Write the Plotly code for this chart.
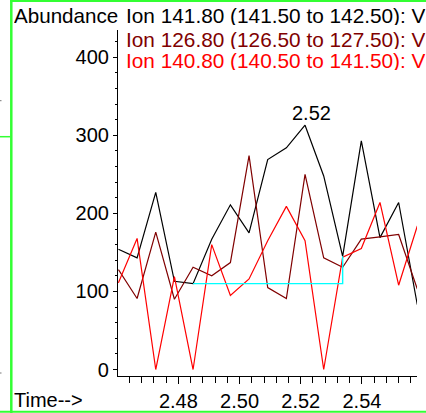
import plotly.graph_objects as go

# ---- data ----
times = [2.4604, 2.4665, 2.4726, 2.4787, 2.4848, 2.4909, 2.4970, 2.5031, 2.5092,
         2.5153, 2.5214, 2.5275, 2.5337, 2.5398, 2.5459, 2.5520, 2.5581]
ion_141 = [154, 143, 227, 113, 110, 167, 211, 175, 269, 284, 313, 248, 145, 293, 169, 214, 83]
ion_126 = [128, 91, 176, 90, 131, 120, 137, 274, 105, 91, 250, 143, 131, 167, 170, 173, 103]
ion_140 = [111, 168, 0, 119, 0, 160, 95, 116, 165, 209, 165, 0, 144, 155, 214, 108, 184]

series_names = ["Ion 141.80 (141.50 to 142.50): V",
                "Ion 126.80 (126.50 to 127.50): V",
                "Ion 140.80 (140.50 to 141.50): V"]
series_colors = ["#000000", "#800000", "#ff0000"]

x_tick_vals = [2.48, 2.50, 2.52, 2.54]
x_tick_text = ["2.48", "2.50", "2.52", "2.54"]
y_tick_vals = [0, 100, 200, 300, 400]

peak_index = 10
peak_label = "2.52"
base_start, base_end = 4, 12

FONT = "Liberation Sans, Arial, sans-serif"

fig = go.Figure()
for vals, name, col in zip([ion_141, ion_126, ion_140], series_names, series_colors):
    fig.add_trace(go.Scatter(x=times, y=vals, mode="lines", name=name,
                             line=dict(color=col, width=1.2), showlegend=False,
                             cliponaxis=True))

# integration baseline
fig.add_trace(go.Scatter(
    x=[times[base_start], times[base_end], times[base_end]],
    y=[ion_141[base_start], ion_141[base_start], ion_141[base_end]],
    mode="lines", line=dict(color="#00ffff", width=1.4), showlegend=False))

L, R, T, B = 118, 9, 30, 37
W, H = 426, 413
pw, ph = W - L - R, H - T - B


def px(x):
    return (x - L) / pw


def py(y):
    return (H - B - y) / ph


annotations = [
    dict(x=times[peak_index], y=ion_141[peak_index], xref="x", yref="y",
         text=peak_label, showarrow=False, xanchor="center", yanchor="bottom",
         xshift=6, yshift=-1, font=dict(family=FONT, size=20, color="black")),
    dict(x=px(12), y=py(15.5), xref="paper", yref="paper", text="Abundance",
         showarrow=False, xanchor="left", yanchor="middle", height=20,
         font=dict(family=FONT, size=20.6, color="black")),
    dict(x=px(12), y=py(400), xref="paper", yref="paper", text="Time-->",
         showarrow=False, xanchor="left", yanchor="middle", height=20,
         font=dict(family=FONT, size=20, color="black")),
]
for name, col, yy in zip(series_names, series_colors, [15.3, 39.5, 60.5]):
    annotations.append(dict(x=px(123.5), y=py(yy), xref="paper", yref="paper",
                            text=name, showarrow=False, xanchor="left",
                            yanchor="middle", height=19, valign="middle",
                            font=dict(family=FONT, size=20.8, color=col)))

green = "#33ff33"
shapes = [
    dict(type="line", xref="paper", yref="paper", x0=px(11.3), x1=px(11.3),
         y0=py(0), y1=py(H), line=dict(color=green, width=2.5)),
    dict(type="line", xref="paper", yref="paper", x0=px(10), x1=px(W),
         y0=py(1), y1=py(1), line=dict(color=green, width=2)),
    dict(type="line", xref="paper", yref="paper", x0=px(0), x1=px(W),
         y0=py(411.7), y1=py(411.7), line=dict(color=green, width=2)),
    dict(type="line", xref="paper", yref="paper", x0=px(0), x1=px(10),
         y0=py(136.7), y1=py(136.7), line=dict(color=green, width=1.5)),
    dict(type="line", xref="paper", yref="paper", x0=px(0), x1=px(1.5),
         y0=py(100.7), y1=py(100.7), line=dict(color="#777777", width=1)),
    dict(type="line", xref="paper", yref="paper", x0=px(0), x1=px(1.5),
         y0=py(373), y1=py(373), line=dict(color="#777777", width=1)),
]

fig.update_layout(
    width=W, height=H,
    margin=dict(l=L, r=R, t=T, b=B, pad=0, autoexpand=False),
    paper_bgcolor="white", plot_bgcolor="white",
    showlegend=False,
    font=dict(family=FONT, size=20, color="black"),
    annotations=annotations, shapes=shapes,
    xaxis=dict(range=[2.46026, 2.5580], showline=True, linecolor="black", linewidth=1.2,
               automargin=False,
               ticks="outside", ticklen=7, tickwidth=1.2, tickcolor="black",
               tickvals=x_tick_vals, ticktext=x_tick_text,
               minor=dict(dtick=0.004, tick0=2.48, ticks="outside", ticklen=6,
                          tickwidth=1.2, tickcolor="black"),
               showgrid=False, zeroline=False,
               tickfont=dict(family=FONT, size=20, color="black")),
    yaxis=dict(range=[-8.3, 435], showline=True, linecolor="black", linewidth=1.2,
               automargin=False,
               ticks="outside", ticklen=4, tickwidth=1.2, tickcolor="black",
               tickvals=y_tick_vals,
               minor=dict(dtick=20, tick0=0, ticks="outside", ticklen=2,
                          tickwidth=1, tickcolor="black"),
               showgrid=False, zeroline=False,
               tickfont=dict(family=FONT, size=20, color="black")),
)

fig.write_html("out.html",
               config={"displayModeBar": False},
               post_script="document.body.style.margin='0';"
                           "document.body.style.overflow='hidden';")
